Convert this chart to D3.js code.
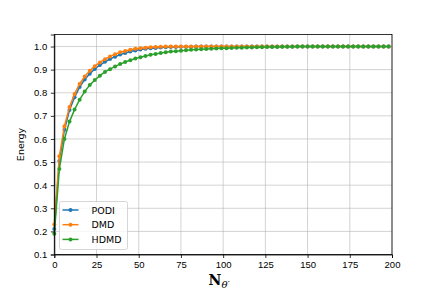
<!DOCTYPE html>
<html lang="en">
<head>
<meta charset="UTF-8">
<title>Energy vs N</title>
<script src="https://d3js.org/d3.v7.min.js"></script>
<style>
  body { margin: 0; padding: 0; background: #fff; }
  svg { display: block; font-family: "DejaVu Sans", sans-serif; }
  .grid line { stroke: #b0b0b0; stroke-opacity: 0.7; stroke-width: 0.8; }
  .axis text { font-size: 9.5px; fill: #000; }
  .axis path, .axis line { stroke: #000; stroke-width: 0.8; }
</style>
</head>
<body>
<svg width="436" height="291"></svg>
<script>
const width = 436, height = 291;
const margin = {top: 34.5, right: 44, bottom: 36.5, left: 54.3};

// sample positions (every 3rd mode)
const nValues = d3.range(0, 199, 3);

// energy per series
const podi = [0.21, 0.505, 0.64, 0.725, 0.78, 0.825, 0.857, 0.882, 0.903, 0.92,
  0.934, 0.946, 0.956, 0.965, 0.972, 0.978, 0.983, 0.987, 0.99, 0.992,
  0.994, 0.996, 0.997, 0.998, 0.998, 0.999, 0.999, 0.999, 1, 1,
  1, 1, 1, 1, 1, 1, 1, 1, 1, 1, 1, 1, 1, 1, 1, 1, 1, 1, 1, 1,
  1, 1, 1, 1, 1, 1, 1, 1, 1, 1, 1, 1, 1, 1, 1, 1, 1];
const dmd = [0.23, 0.525, 0.655, 0.738, 0.795, 0.838, 0.87, 0.895, 0.915, 0.931,
  0.945, 0.957, 0.967, 0.975, 0.981, 0.986, 0.99, 0.993, 0.995, 0.997,
  0.998, 0.999, 1, 1, 1, 1, 1, 1, 1, 1,
  1, 1, 1, 1, 1, 1, 1, 1, 1, 1, 1, 1, 1, 1, 1, 1, 1, 1, 1, 1,
  1, 1, 1, 1, 1, 1, 1, 1, 1, 1, 1, 1, 1, 1, 1, 1, 1];
const hdmd = [0.19, 0.47, 0.6, 0.675, 0.727, 0.77, 0.805, 0.833, 0.855, 0.874,
  0.89, 0.902, 0.914, 0.924, 0.933, 0.941, 0.948, 0.954, 0.959, 0.964,
  0.968, 0.972, 0.975, 0.978, 0.98, 0.982, 0.984, 0.986, 0.987, 0.988,
  0.989, 0.99, 0.991, 0.992, 0.993, 0.994, 0.995, 0.995, 0.996, 0.996,
  0.997, 0.997, 0.998, 0.998, 0.998, 0.999, 0.999, 0.999, 1, 1,
  1, 1, 1, 1, 1, 1, 1, 1, 1, 1, 1, 1, 1, 1, 1, 1, 1];

const seriesNames = ["PODI", "DMD", "HDMD"];
const seriesColors = ["#1f77b4", "#ff7f0e", "#2ca02c"];
const xTicks = [0, 25, 50, 75, 100, 125, 150, 175, 200];
const yTicks = [0.1, 0.2, 0.3, 0.4, 0.5, 0.6, 0.7, 0.8, 0.9, 1.0];

const series = [podi, dmd, hdmd].map((vals, i) => ({
  name: seriesNames[i],
  color: seriesColors[i],
  points: vals.map((v, j) => [nValues[j], v])
}));

const svg = d3.select("svg");
const innerW = width - margin.left - margin.right;
const innerH = height - margin.top - margin.bottom;

const x = d3.scaleLinear().domain([0, 200]).range([margin.left, margin.left + innerW]);
const y = d3.scaleLinear().domain([0.1, 1.052]).range([margin.top + innerH, margin.top]);

// grid
svg.append("g").attr("class", "grid")
  .selectAll("line.v").data(xTicks).join("line")
  .attr("x1", d => x(d)).attr("x2", d => x(d))
  .attr("y1", margin.top).attr("y2", margin.top + innerH);
svg.append("g").attr("class", "grid")
  .selectAll("line.h").data(yTicks).join("line")
  .attr("x1", margin.left).attr("x2", margin.left + innerW)
  .attr("y1", d => y(d)).attr("y2", d => y(d));

// lines + markers
const line = d3.line().x(d => x(d[0])).y(d => y(d[1]));
series.forEach(s => {
  const g = svg.append("g");
  g.append("path").datum(s.points)
    .attr("fill", "none").attr("stroke", s.color).attr("stroke-width", 1.5)
    .attr("d", line);
  g.selectAll("circle").data(s.points).join("circle")
    .attr("cx", d => x(d[0])).attr("cy", d => y(d[1])).attr("r", 2)
    .attr("fill", s.color);
});

// axes
svg.append("g").attr("class", "axis")
  .attr("transform", `translate(0,${margin.top + innerH})`)
  .call(d3.axisBottom(x).tickValues(xTicks).tickSize(3.5).tickPadding(3.5).tickFormat(d3.format("d")));
svg.append("g").attr("class", "axis")
  .attr("transform", `translate(${margin.left},0)`)
  .call(d3.axisLeft(y).tickValues(yTicks).tickSize(3.5).tickPadding(3.5).tickFormat(d3.format(".1f")));

// frame
svg.append("rect")
  .attr("x", margin.left).attr("y", margin.top)
  .attr("width", innerW).attr("height", innerH)
  .attr("fill", "none").attr("stroke", "#000").attr("stroke-width", 0.8);

// labels
svg.append("text")
  .attr("transform", `translate(24,${margin.top + innerH / 2}) rotate(-90)`)
  .attr("text-anchor", "middle")
  .style("font-size", "9.5px")
  .text("Energy");

const xl = svg.append("text")
  .attr("x", margin.left + innerW / 2 - 4).attr("y", 285)
  .attr("text-anchor", "middle")
  .style("font-family", "'DejaVu Serif', serif");
xl.append("tspan").style("font-weight", "bold").style("font-size", "14px").text("N");
xl.append("tspan").attr("dy", 3).style("font-style", "italic").style("font-size", "10px").text("θ′");

// legend
const lg = svg.append("g").attr("transform", "translate(59.5,201.5)");
lg.append("rect")
  .attr("width", 68).attr("height", 48).attr("rx", 2)
  .attr("fill", "#fff").attr("fill-opacity", 0.8)
  .attr("stroke", "#ccc").attr("stroke-width", 0.8);
series.forEach((s, i) => {
  const row = lg.append("g").attr("transform", `translate(0,${8.5 + i * 14.7})`);
  row.append("line").attr("x1", 3).attr("x2", 19)
    .attr("stroke", s.color).attr("stroke-width", 1.5);
  row.append("circle").attr("cx", 11).attr("r", 2).attr("fill", s.color);
  row.append("text").attr("x", 32).attr("y", 3.5)
    .style("font-size", "9.5px").text(s.name);
});
</script>
</body>
</html>
